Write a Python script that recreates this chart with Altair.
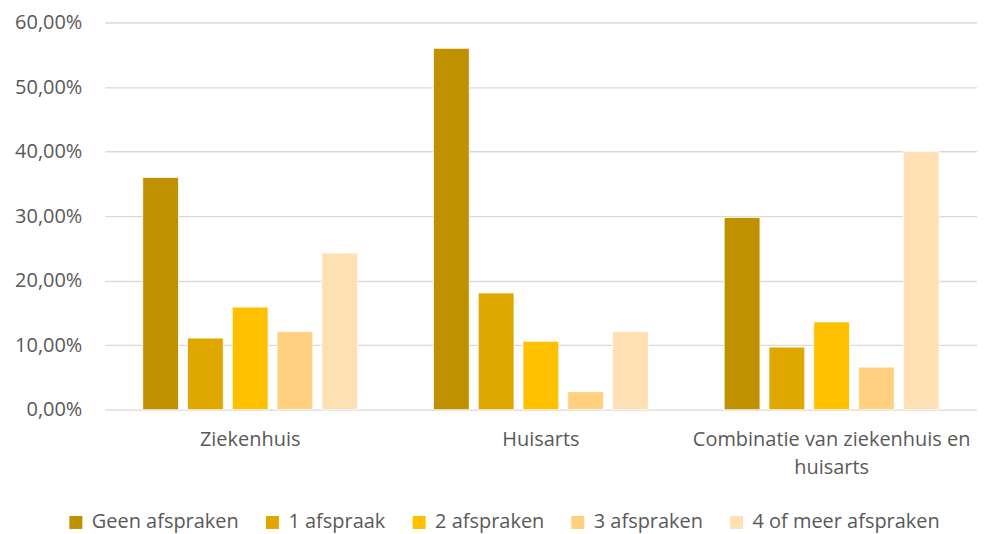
import altair as alt
import pandas as pd

categories = ["Ziekenhuis", "Huisarts", "Combinatie van ziekenhuis en huisarts"]
series = ["Geen afspraken", "1 afspraak", "2 afspraken", "3 afspraken", "4 of meer afspraken"]
values = {
    "Geen afspraken": [36.0, 56.0, 29.8],
    "1 afspraak": [11.1, 18.1, 9.7],
    "2 afspraken": [15.9, 10.6, 13.6],
    "3 afspraken": [12.1, 2.8, 6.6],
    "4 of meer afspraken": [24.3, 12.1, 40.0],
}
colors = ["#BF9000", "#DFA800", "#FFC000", "#FFD080", "#FFE0B3"]

rows = []
for s in series:
    for c, v in zip(categories, values[s]):
        rows.append({"categorie": c, "reeks": s, "waarde": v})
df = pd.DataFrame(rows)

FONT = "Open Sans"
TXT = "#595959"
FS = 20

chart = alt.Chart(df).mark_bar(stroke="white", strokeWidth=0.8).encode(
    x=alt.X("categorie:N", sort=categories, title=None,
            scale=alt.Scale(paddingInner=0.23, paddingOuter=0.115),
            axis=alt.Axis(labelAngle=0, domain=False, ticks=False, labelFontSize=FS,
                          labelColor=TXT, labelFont=FONT, labelPadding=20,
                          labelLimit=400, labelLineHeight=28,
                          labelExpr="datum.label == 'Combinatie van ziekenhuis en huisarts' ? ['Combinatie van ziekenhuis en', 'huisarts'] : datum.label")),
    xOffset=alt.XOffset("reeks:N", sort=series,
                        scale=alt.Scale(paddingInner=0.2, paddingOuter=0.1)),
    y=alt.Y("waarde:Q", title=None,
            scale=alt.Scale(domain=[0, 60], nice=False),
            axis=alt.Axis(values=[0, 10, 20, 30, 40, 50, 60], domain=False, ticks=False,
                          labelFontSize=FS, labelColor=TXT, labelFont=FONT, labelPadding=23,
                          gridColor="#D9D9D9", gridWidth=1.3,
                          labelExpr="replace(format(datum.value, '.2f'), '.', ',') + '%'")),
    color=alt.Color("reeks:N", sort=series, title=None,
                    scale=alt.Scale(domain=series, range=colors),
                    legend=alt.Legend(orient="none", legendX=-39, legendY=491,
                                      direction="horizontal", symbolType="square",
                                      symbolSize=169, symbolStrokeWidth=0, labelFontSize=FS,
                                      labelColor=TXT, labelFont=FONT, columnPadding=23,
                                      labelLimit=400, symbolOffset=0, labelOffset=6)),
).properties(
    width=874, height=388,
    padding={"left": 6, "top": 4, "right": 0, "bottom": 0},
).configure_view(stroke=None)

chart.save("out.html", embed_options={"renderer": "svg", "actions": False})
